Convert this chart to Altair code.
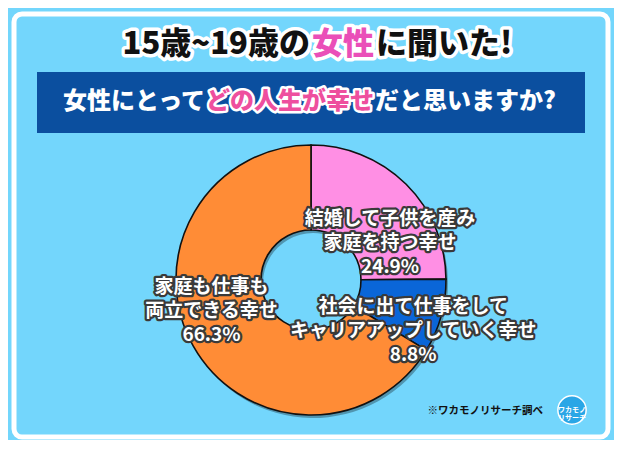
import altair as alt
import pandas as pd

# ---- data ----
categories = ["結婚して子供を産み\n家庭を持つ幸せ",
              "社会に出て仕事をして\nキャリアアップしていく幸せ",
              "家庭も仕事も\n両立できる幸せ"]
values = [24.9, 8.8, 66.3]
slice_colors = ["#ff8fe4", "#0a66d8", "#ff8c36"]
title_parts = ["15歳~19歳の", "女性", "に聞いた!"]
question_parts = ["女性にとって", "どの人生が幸せ", "だと思いますか?"]
source_note = "※ワカモノリサーチ調べ"
logo_text = "ワカモノ\nリサーチ"

FONT = "Noto Sans CJK JP"
BG = "#73d6fc"
W, H = 606, 432
CX, CY = 303, 272
R_IN, R_OUT = 50, 135

df = pd.DataFrame({"cat": categories, "value": values, "order": list(range(len(values)))})
one = alt.Data(values=[{"k": 1}])

base = (
    alt.Chart(df)
    .transform_window(cum="sum(value)", sort=[alt.SortField("order")], frame=[None, 0])
    .transform_joinaggregate(total="sum(value)")
    .transform_calculate(
        start="2*PI*(datum.cum-datum.value)/datum.total",
        end="2*PI*datum.cum/datum.total",
        mid="PI*(2*datum.cum-datum.value)/datum.total",
        label="datum.cat + '\\n' + format(datum.value, '.1f') + '%'",
    )
)

color = alt.Color("cat:N", scale=alt.Scale(domain=categories, range=slice_colors), legend=None)

shadow = base.mark_arc(innerRadius=R_IN, outerRadius=R_OUT, fill="#000000", opacity=0.3).encode(
    theta=alt.Theta("start:Q", scale=None), theta2="end:Q",
    x=alt.value(CX + 2), y=alt.value(CY + 3),
)
arcs = base.mark_arc(innerRadius=R_IN, outerRadius=R_OUT, stroke="#111111", strokeWidth=1.6).encode(
    theta=alt.Theta("start:Q", scale=None), theta2="end:Q", color=color,
    x=alt.value(CX), y=alt.value(CY),
)

label_offsets = [(5, 13), (1, -1), (-8, -44)]
label_layers = []
for cat, (ddx, ddy) in zip(categories, label_offsets):
    sub = base.transform_filter(alt.datum.cat == cat)
    common = dict(font=FONT, fontSize=19, fontWeight="bold", lineBreak="\n", lineHeight=24,
                  align="center", baseline="middle", radius=105, dx=ddx, dy=ddy)
    enc = dict(theta=alt.Theta("mid:Q", scale=None), text="label:N", x=alt.value(CX), y=alt.value(CY))
    label_layers.append(sub.mark_text(fill="#3a3a3a", stroke="#3a3a3a", strokeWidth=4.5,
                                      strokeJoin="round", **common).encode(**enc))
    label_layers.append(sub.mark_text(fill="#ffffff", **common).encode(**enc))


def txt(s, x, y, size, fill, align="center", outline=None, ow=0, weight=900, line_height=None):
    out = []
    kw = dict(text=s, align=align, baseline="middle", font=FONT, fontSize=size, fontWeight=weight)
    if line_height:
        kw.update(lineBreak="\n", lineHeight=line_height)
    enc = dict(x=alt.value(x), y=alt.value(y))
    if outline:
        out.append(alt.Chart(one).mark_text(fill=outline, stroke=outline, strokeWidth=ow,
                                            strokeJoin="round", **kw).encode(**enc))
    out.append(alt.Chart(one).mark_text(fill=fill, **kw).encode(**enc))
    return out


frame = alt.Chart(one).mark_rect(fillOpacity=0, stroke="#ffffff", strokeWidth=5, cornerRadius=8).encode(
    x=alt.value(6), x2=alt.value(600), y=alt.value(6), y2=alt.value(429))
banner = alt.Chart(one).mark_rect(fill="#0b4f9f").encode(
    x=alt.value(29), x2=alt.value(577), y=alt.value(64), y2=alt.value(125))

title_layers = (
    txt(title_parts[0], 302, 37, 31, "#111111", align="right", outline="#ffffff", ow=7)
    + txt(title_parts[1], 335, 37, 31, "#ea4fb8", align="center", outline="#ffffff", ow=7)
    + txt(title_parts[2], 368, 37, 31, "#111111", align="left", outline="#ffffff", ow=7)
)
question_layers = (
    txt(question_parts[0], 197, 94, 24, "#ffffff", align="right")
    + txt(question_parts[1], 282, 94, 24, "#ee4f9e", align="center", outline="#ffffff", ow=5)
    + txt(question_parts[2], 367, 94, 24, "#ffffff", align="left")
)

logo = alt.Chart(one).mark_point(shape="circle", filled=True, size=800, fill="#2aa6e6",
                                 stroke="#ffffff", strokeWidth=1.5, opacity=1).encode(
    x=alt.value(564), y=alt.value(402))
footer_layers = (
    txt(source_note, 535, 403, 10.5, "#111111", align="right", weight="bold")
    + [logo]
    + txt(logo_text, 564, 402, 7, "#ffffff", weight="bold", line_height=8)
)

chart = alt.layer(
    frame, banner, *title_layers, *question_layers, shadow, arcs, *label_layers, *footer_layers
).properties(
    width=W, height=H, padding=0, autosize=alt.AutoSizeParams(type="none")
).configure(background=BG).configure_view(strokeWidth=0)

chart.save("out.html", embed_options={"renderer": "svg", "actions": False})
